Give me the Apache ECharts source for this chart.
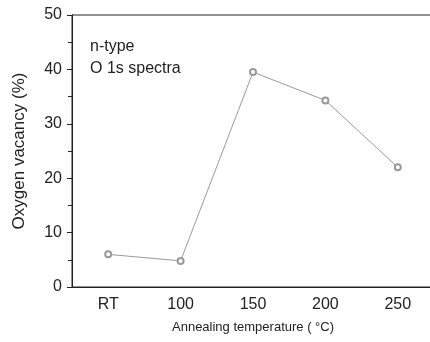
<!DOCTYPE html>
<html>
<head>
<meta charset="utf-8">
<script src="https://cdn.jsdelivr.net/npm/echarts@6/dist/echarts.min.js"></script>
<style>
  html, body { margin: 0; padding: 0; background: #fff; }
  #chart { width: 430px; height: 342px; }
</style>
</head>
<body>
<div id="chart"></div>
<script>
var temps = ['RT', '100', '150', '200', '250']
var vacancy = [6.0, 4.8, 39.5, 34.3, 22.0]
var yTicks = [0, 10, 20, 30, 40, 50]

var font = 'Liberation Sans, Arial, sans-serif'
var axisColor = '#222'

var echart = echarts.init(document.getElementById('chart'))
var option = {
    animation: false,
    grid: {
        left: 72,
        top: 15,
        width: 362,
        bottom: 55,
        outerBoundsMode: 'none',
        containLabel: false,
        show: true,
        borderColor: axisColor,
        borderWidth: 1
    },
    graphic: [{
        type: 'text',
        left: 90,
        top: 36,
        style: {
            text: 'n-type\nO 1s spectra',
            font: '16px ' + font,
            fill: '#222',
            lineHeight: 22
        }
    }],
    xAxis: [{
        type: 'category',
        data: temps,
        boundaryGap: true,
        name: 'Annealing temperature ( °C)',
        nameLocation: 'middle',
        nameGap: 34,
        nameTextStyle: { color: '#222', fontSize: 13, fontFamily: font },
        axisLine: { lineStyle: { color: axisColor, width: 1 } },
        axisTick: { alignWithLabel: true, length: 5, lineStyle: { color: axisColor } },
        axisLabel: { color: '#222', fontSize: 16, fontFamily: font, margin: 10 },
        splitLine: { show: false }
    }, {
        // ticks between categories
        type: 'category',
        data: temps,
        position: 'bottom',
        boundaryGap: true,
        axisLine: { show: false },
        axisTick: { length: 4, lineStyle: { color: axisColor } },
        axisLabel: { show: false },
        splitLine: { show: false }
    }],
    yAxis: [{
        type: 'value',
        min: yTicks[0],
        max: yTicks[yTicks.length - 1],
        interval: 10,
        name: 'Oxygen vacancy (%)',
        nameLocation: 'middle',
        nameGap: 44,
        nameTextStyle: { color: '#222', fontSize: 17, fontFamily: font },
        axisLine: { show: true, lineStyle: { color: axisColor, width: 1 } },
        axisTick: { show: true, length: 5, lineStyle: { color: axisColor } },
        minorTick: { show: true, splitNumber: 2, length: 4, lineStyle: { color: axisColor } },
        axisLabel: { color: '#222', fontSize: 16, fontFamily: font, margin: 10 },
        splitLine: { show: false }
    }],
    series: [{
        type: 'line',
        data: vacancy,
        symbol: 'emptyCircle',
        symbolSize: 6,
        showAllSymbol: true,
        lineStyle: { color: '#999', width: 1 },
        itemStyle: { color: '#999', borderColor: '#aaa', borderWidth: 1 }
    }]
}
echart.setOption(option)
</script>
</body>
</html>
